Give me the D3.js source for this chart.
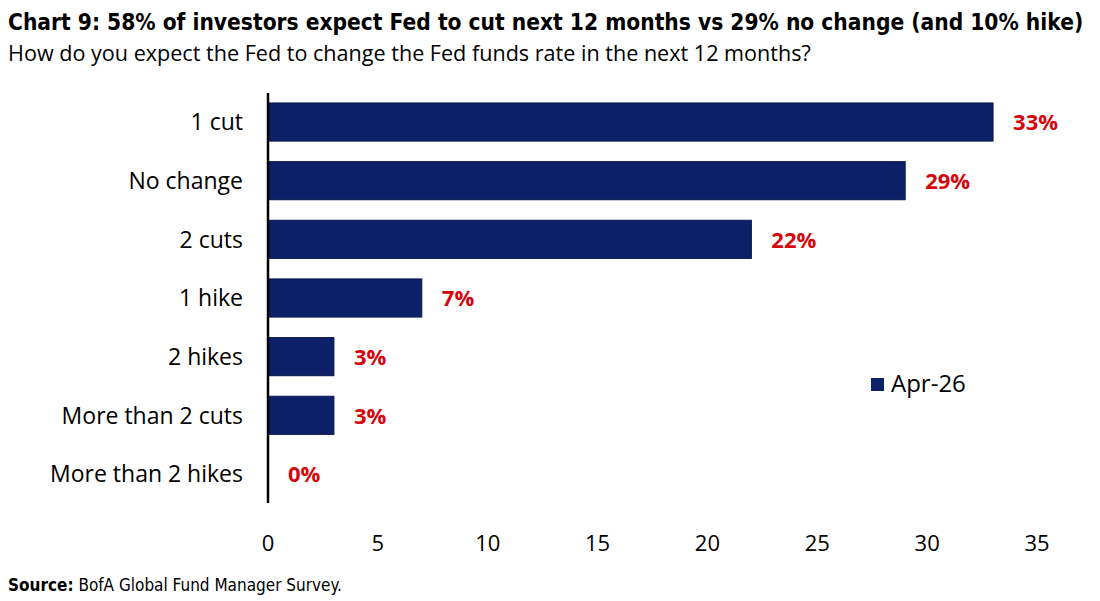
<!DOCTYPE html>
<html>
<head>
<meta charset="utf-8">
<script src="https://cdn.jsdelivr.net/npm/d3@7"></script>
<style>
  body { margin: 0; background: #fff; }
  text { font-family: "Open Sans", sans-serif; }
</style>
</head>
<body>
<div id="chart"></div>
<script>
var categories = ["1 cut", "No change", "2 cuts", "1 hike", "2 hikes", "More than 2 cuts", "More than 2 hikes"];
var values = [33, 29, 22, 7, 3, 3, 0];
var ticks = [0, 5, 10, 15, 20, 25, 30, 35];
var seriesName = "Apr-26";

var width = 1100, height = 601;
var navy = "#0c2168", red = "#d7060c";

var svg = d3.select("#chart").append("svg")
  .attr("width", width)
  .attr("height", height);

// fit a text to a target width by scaling its font size
function fitText(sel, target) {
  var fs = parseFloat(sel.style("font-size"));
  var w = sel.node().getComputedTextLength();
  if (w > 0) sel.style("font-size", (fs * target / w) + "px");
}

// titles
var title = svg.append("text")
  .attr("x", 8).attr("y", 30)
  .style("font-family", "'DejaVu Sans Condensed', 'Open Sans', sans-serif")
  .style("font-size", "24px").style("font-weight", "bold").style("fill", "#000")
  .text("Chart 9: 58% of investors expect Fed to cut next 12 months vs 29% no change (and 10% hike)");
fitText(title, 1076);

var sub = svg.append("text")
  .attr("x", 8).attr("y", 61)
  .style("font-size", "24px").style("fill", "#000")
  .text("How do you expect the Fed to change the Fed funds rate in the next 12 months?");
fitText(sub, 803);

var x = d3.scaleLinear().domain([0, 35]).range([268, 1037]);
var y = d3.scaleBand().domain(categories).range([92.7, 503.3]).paddingInner(0.35).paddingOuter(0.175);

var data = categories.map(function (c, i) { return { cat: c, val: values[i] }; });

svg.selectAll("rect.bar").data(data).enter()
  .append("rect")
  .attr("class", "bar")
  .attr("x", x(0))
  .attr("y", function (d) { return y(d.cat); })
  .attr("width", function (d) { return x(d.val) - x(0); })
  .attr("height", y.bandwidth())
  .style("fill", navy)
  .style("stroke", function (d) { return d.val > 0 ? "#071650" : "none"; })
  .style("stroke-width", 1);

// value labels
svg.selectAll("text.val").data(data).enter()
  .append("text")
  .attr("class", "val")
  .attr("x", function (d) { return x(d.val) + 20; })
  .attr("y", function (d) { return y(d.cat) + y.bandwidth() / 2; })
  .attr("dy", "0.38em")
  .style("font-size", "22px").style("font-weight", "bold").style("fill", red)
  .text(function (d) { return d.val + "%"; });

// category labels
svg.selectAll("text.cat").data(data).enter()
  .append("text")
  .attr("class", "cat")
  .attr("x", 243)
  .attr("y", function (d) { return y(d.cat) + y.bandwidth() / 2; })
  .attr("dy", "0.36em")
  .attr("text-anchor", "end")
  .style("font-size", "23px").style("fill", "#000")
  .text(function (d) { return d.cat; });

// vertical axis line
svg.append("line")
  .attr("x1", x(0)).attr("x2", x(0))
  .attr("y1", 93).attr("y2", 503)
  .style("stroke", "#000").style("stroke-width", 2.5);

// x tick labels
svg.selectAll("text.tick").data(ticks).enter()
  .append("text")
  .attr("class", "tick")
  .attr("x", function (d) { return x(d); })
  .attr("y", 551)
  .attr("text-anchor", "middle")
  .style("font-size", "22px").style("fill", "#000")
  .text(function (d) { return d; });

// legend
var legend = svg.append("g");
legend.append("rect")
  .attr("x", 871).attr("y", 378).attr("width", 13).attr("height", 13)
  .style("fill", navy);
legend.append("text")
  .attr("x", 891).attr("y", 392)
  .style("font-size", "24px").style("fill", "#000")
  .text(seriesName);

// source
var src = svg.append("text")
  .attr("x", 8).attr("y", 591)
  .style("font-family", "'DejaVu Sans Condensed', 'Open Sans', sans-serif")
  .style("font-size", "17px").style("fill", "#000");
src.append("tspan").style("font-weight", "bold").text("Source:");
src.append("tspan").text(" BofA Global Fund Manager Survey.");
</script>
</body>
</html>
